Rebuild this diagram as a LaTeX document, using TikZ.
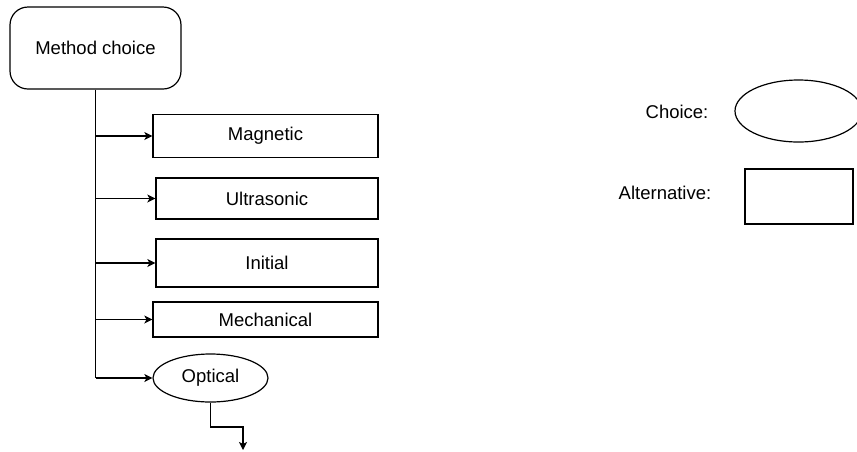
\documentclass[tikz,border=0pt]{standalone}
\usepackage{fontspec}
\setmainfont{Liberation Sans}
\usetikzlibrary{shapes.geometric,arrows.meta}
\begin{document}
\begin{tikzpicture}[x=1pt,y=-1pt,
  every node/.style={font=\fontsize{18.5}{22}\selectfont, inner sep=0pt},
  box/.style={draw, line width=1.2pt, rectangle},
  oval/.style={draw, line width=1.2pt, ellipse},
  trunk/.style={line width=1.8pt},
  arr/.style={line width=1.2pt, -{Stealth[length=8pt,width=8pt,inset=2pt]}}]
\useasboundingbox (0,0) rectangle (857,451);
% main nodes
\node[box, rounded corners=18pt, minimum width=171pt, minimum height=82pt] (mc) at (95.5,48) {Method choice};
\node[box, minimum width=225pt, minimum height=43pt] (mag) at (265.5,136) {Magnetic};
\node[box, minimum width=222pt, minimum height=41pt] (ult) at (267,198.5) {Ultrasonic};
\node[box, minimum width=222pt, minimum height=48pt] (ini) at (267,263) {Initial};
\node[box, minimum width=225pt, minimum height=35pt] (mec) at (265.5,319.5) {Mechanical};
\node[oval, minimum width=115pt, minimum height=48pt] (opt) at (210.5,378) {Optical};
% legend
\node (lc) at (677,112) {Choice:};
\node[oval, minimum width=127pt, minimum height=62pt] (le) at (798.5,111) {};
\node (la) at (665,193) {Alternative:};
\node[box, minimum width=108pt, minimum height=55pt] (lb) at (799,196.5) {};
% connectors
\draw[trunk] (mc.south) -- (mc.south |- opt.west);
\draw[arr] (mc.south |- mag.west) -- (mag.west);
\draw[arr] (mc.south |- ult.west) -- (ult.west);
\draw[arr] (mc.south |- ini.west) -- (ini.west);
\draw[arr] (mc.south |- mec.west) -- (mec.west);
\draw[arr] (mc.south |- opt.west) -- (opt.west);
\coordinate (bend) at (210.5,427);
\coordinate (tip) at (243,450);
\draw[arr] (opt.south) -- (bend) -| (tip);
\end{tikzpicture}
\end{document}
